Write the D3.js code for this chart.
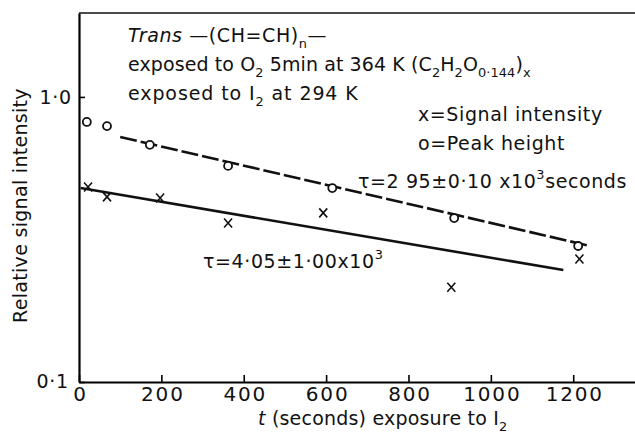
<!DOCTYPE html>
<html>
<head>
<meta charset="utf-8">
<script src="https://cdn.jsdelivr.net/npm/d3@7"></script>
<style>
  body { margin: 0; background: #fff; }
  svg { display: block; }
  text { font-family: "DejaVu Sans", sans-serif; fill: #111; }
</style>
</head>
<body>
<div id="chart"></div>
<script>
// Peak height (open circles).
const peakTime = [19, 68, 172, 362, 615, 911, 1212];
const peakHeight = [0.817, 0.79, 0.679, 0.573, 0.479, 0.376, 0.300];

// Signal intensity (crosses).
const signalTime = [22, 68, 197, 362, 593, 904, 1215];
const signalIntensity = [0.483, 0.446, 0.442, 0.361, 0.392, 0.215, 0.270];

// Fitted decay lines, [t, value] end points.
const peakFit = [[100, 0.724], [1241, 0.300]];
const signalFit = [[4, 0.479], [1176, 0.247]];

// Axis ticks.
const xTicks = [0, 200, 400, 600, 800, 1000, 1200];
const yTicks = [0.1, 1.0];
const yTickLabels = ["0·1", "1·0"];

const width = 635, height = 436;
const margin = { top: 13, right: 0, bottom: 54, left: 79 };

const svg = d3.select("#chart").append("svg")
  .attr("width", width)
  .attr("height", height);

const x = d3.scaleLinear()
  .domain([0, 1350])
  .range([margin.left, width - margin.right]);

const y = d3.scaleLog()
  .domain([0.1, 1.97])
  .range([height - margin.bottom, margin.top]);

// Bottom axis, ticks pointing inwards.
const gx = svg.append("g")
  .attr("transform", `translate(0,${height - margin.bottom})`)
  .call(d3.axisBottom(x).tickValues(xTicks).tickSizeInner(-7).tickSizeOuter(0).tickPadding(5).tickFormat(d3.format("d")));
gx.select(".domain").attr("stroke-width", 2.2);
gx.selectAll(".tick line").attr("stroke-width", 1.6);
gx.selectAll(".tick text")
  .attr("font-size", 20)
  .attr("font-family", "DejaVu Sans")
  .attr("letter-spacing", 1.8)
  .attr("dx", 1)
  .attr("fill", "#111");

// Left axis.
const gy = svg.append("g")
  .attr("transform", `translate(${margin.left},0)`)
  .call(d3.axisLeft(y).tickValues(yTicks).tickSizeInner(-6).tickSizeOuter(0).tickPadding(7)
    .tickFormat((d, i) => yTickLabels[i]));
gy.select(".domain").attr("stroke-width", 2.2);
gy.selectAll(".tick line").attr("stroke-width", 1.6);
gy.selectAll(".tick text")
  .attr("font-size", 19)
  .attr("font-family", "DejaVu Sans")
  .attr("letter-spacing", 0.8)
  .attr("fill", "#111");
gy.selectAll(".tick").filter(d => d === 0.1).select("text").attr("dx", -3).attr("dy", "0.3em");

// Top frame line.
svg.append("line")
  .attr("x1", x(0)).attr("x2", x(1350))
  .attr("y1", y(1.97)).attr("y2", y(1.97))
  .attr("stroke", "#111")
  .attr("stroke-width", 1.4);

// Fit lines.
const line = d3.line()
  .x(d => x(d[0]))
  .y(d => y(d[1]));

svg.append("path")
  .datum(peakFit)
  .attr("fill", "none")
  .attr("stroke", "#111")
  .attr("stroke-width", 2.6)
  .attr("stroke-dasharray", "17,4")
  .attr("d", line);

svg.append("path")
  .datum(signalFit)
  .attr("fill", "none")
  .attr("stroke", "#111")
  .attr("stroke-width", 2.6)
  .attr("d", line);

// Peak height markers.
svg.append("g")
  .selectAll("circle")
  .data(d3.zip(peakTime, peakHeight))
  .join("circle")
    .attr("cx", d => x(d[0]))
    .attr("cy", d => y(d[1]))
    .attr("r", 4)
    .attr("fill", "#fff")
    .attr("stroke", "#111")
    .attr("stroke-width", 1.8);

// Signal intensity markers.
svg.append("g")
  .selectAll("path")
  .data(d3.zip(signalTime, signalIntensity))
  .join("path")
    .attr("transform", d => `translate(${x(d[0])},${y(d[1])})`)
    .attr("d", "M-4,-4.5L4,4.5M4,-4.5L-4,4.5")
    .attr("fill", "none")
    .attr("stroke", "#111")
    .attr("stroke-width", 1.6);

// Text with sub/superscripts. Segments: [text, kind] where kind is "sub", "sup", "it" or nothing.
function richText(px, py, size, parts, spacing = 0.6) {
  const t = svg.append("text")
    .attr("x", px)
    .attr("y", py)
    .attr("font-size", size)
    .attr("letter-spacing", spacing);
  let shift = 0;   // current baseline offset
  parts.forEach(([s, kind]) => {
    const span = t.append("tspan").text(s);
    let target = 0;
    if (kind === "sub") target = size * 0.32;
    if (kind === "sup") target = -size * 0.45;
    if (kind === "sub" || kind === "sup") span.attr("font-size", size * 0.68);
    if (kind === "it") span.attr("font-style", "italic");
    if (target !== shift) span.attr("dy", target - shift);
    shift = target;
  });
  return t;
}

richText(128, 42, 19, [["Trans", "it"], [" —(CH=CH)"], ["n", "sub"], ["—"]]);
richText(128, 71, 19, [["exposed to O"], ["2", "sub"], [" 5min at 364 K (C"], ["2", "sub"], ["H"], ["2", "sub"], ["O"], ["0·144", "sub"], [")"], ["x", "sub"]], 0.1);
richText(128, 100, 19, [["exposed to I"], ["2", "sub"], [" at 294 K"]], 0.9);
richText(418, 121, 19, [["x=Signal intensity"]]);
richText(418, 150, 19, [["o=Peak height"]]);
richText(358, 188, 19, [["τ=2 95±0·10 x10"], ["3", "sup"], ["seconds"]]);
richText(203, 268, 19, [["τ=4·05±1·00x10"], ["3", "sup"]]);

// Axis titles.
richText(258, 425, 19, [["t", "it"], [" (seconds) exposure to I"], ["2", "sub"]], 0.2);

svg.append("text")
  .attr("transform", `translate(27,${(margin.top + height - margin.bottom) / 2 + 8}) rotate(-90)`)
  .attr("text-anchor", "middle")
  .attr("font-size", 19)
  .attr("letter-spacing", 0.3)
  .text("Relative signal intensity");
</script>
</body>
</html>
